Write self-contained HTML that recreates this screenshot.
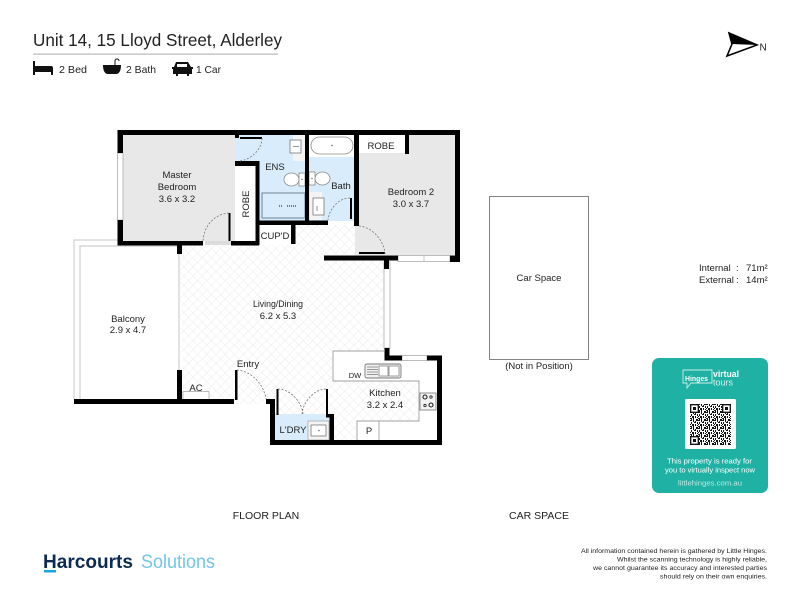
<!DOCTYPE html>
<html><head><meta charset="utf-8"><style>
html,body{margin:0;padding:0;background:#fff;width:800px;height:600px;overflow:hidden}
svg{display:block}
text{font-family:"Liberation Sans",sans-serif;fill:#222}
</style></head><body>
<svg width="800" height="600" viewBox="0 0 800 600" xmlns="http://www.w3.org/2000/svg">
<defs>
<pattern id="h" width="6.5" height="6.5" patternUnits="userSpaceOnUse" patternTransform="rotate(45)">
<rect width="6.5" height="6.5" fill="#fff"/><path d="M0 0H6.5M0 0V6.5" stroke="#e6e6e6" stroke-width="0.8"/>
</pattern>
<pattern id="q" width="8" height="8" patternUnits="userSpaceOnUse" x="690" y="404">
<rect width="8" height="8" fill="#fff"/>
<path d="M0 0h2v1H0zM3 0h1v2H3zM6 0h2v1H6zM1 2h1v2H1zM4 2h2v1H4zM7 2h1v2H7zM0 4h1v1H0zM2 4h2v2H2zM5 4h1v2H5zM7 5h1v1H7zM0 6h2v1H0zM3 6h1v2H3zM6 7h2v1H6zM1 7h1v1H1zM5 1h1v1H5z" fill="#111"/>
</pattern>
</defs>

<!-- header -->
<text x="33" y="46" font-size="17.5" textLength="249" lengthAdjust="spacingAndGlyphs">Unit 14, 15 Lloyd Street, Alderley</text>
<rect x="33" y="53.5" width="245" height="1.2" fill="#b8b8b8"/>
<!-- bed -->
<path d="M33 61h2v5h16a2 2 0 0 1 2 2v7h-2v-3H35v3h-2z" fill="#111"/>
<text x="59" y="73" font-size="10.5" fill="#333" textLength="28" lengthAdjust="spacingAndGlyphs">2 Bed</text>
<!-- bath -->
<path d="M103 65h18c0 6-2 9-5 9h-8c-3 0-5-3-5-9z" fill="#111"/>
<path d="M115 65v-4a2 2 0 0 1 4 0" fill="none" stroke="#111" stroke-width="1"/>
<text x="126" y="73" font-size="10.5" fill="#333" textLength="30" lengthAdjust="spacingAndGlyphs">2 Bath</text>
<!-- car -->
<path d="M176 62h12l3 5h2v2h-1v5h-3v2h-2v-2h-9v2h-2v-2h-3v-5h-1v-2h2z" fill="#111"/>
<rect x="177" y="64" width="10" height="3" fill="#fff"/>
<text x="196" y="73" font-size="10.5" fill="#333" textLength="25" lengthAdjust="spacingAndGlyphs">1 Car</text>

<!-- north -->
<path d="M729 33L757 45L727 56L732 44Z" fill="#fff" stroke="#000" stroke-width="1.6"/>
<path d="M729 33L757 45L732 44Z" fill="#000"/>
<text x="759.500" y="50.500" font-size="10" fill="#222">N</text>

<!-- balcony -->
<path d="M74 399V240H118" fill="none" stroke="#c9c9c9" stroke-width="1"/>
<path d="M80 399V246H178" fill="none" stroke="#d6d6d6" stroke-width="1.4"/>

<!-- floors -->
<rect x="123" y="135" width="112" height="106" fill="#e8e8e8"/>
<rect x="205" y="241" width="26" height="4" fill="#dcdcdc"/>
<rect x="355" y="135" width="100" height="120" fill="#e8e8e8"/>
<path d="M180 245H292V225H355V255H324V260H384V351H333V381H419V421H357V440H334V414H275V404H234V399H182Z" fill="url(#h)"/>
<rect x="355" y="225" width="30" height="30" fill="#e8e8e8"/>
<path d="M235 135H305V221H259V165H235Z" fill="#d8ecfb"/>
<rect x="309" y="135" width="46" height="86" fill="#d8ecfb"/>
<rect x="275" y="414" width="55" height="26" fill="#d8ecfb"/>
<rect x="236" y="167" width="20" height="73" fill="#fff"/>
<rect x="259" y="225" width="33" height="19" fill="#fff"/>
<rect x="359" y="135" width="46" height="18" fill="#fff"/>
<rect x="309" y="135" width="46" height="22" fill="#fff"/>

<!-- fixtures -->
<g fill="#fff" stroke="#8a8a8a" stroke-width="0.8">
<rect x="311" y="137" width="42" height="17" rx="8.5"/>
<rect x="293" y="135" width="12" height="26" fill="#f4f4f4" stroke="none"/>
<rect x="290" y="140" width="11" height="13" stroke="#777"/>
<rect x="310" y="192" width="12" height="28" fill="#f4f4f4" stroke="none"/>
<rect x="313" y="198" width="11" height="17" stroke="#777"/>
<ellipse cx="291.500" cy="179.500" rx="7.500" ry="6.500"/>
<rect x="299" y="173" width="6" height="13" fill="#fff"/>
<ellipse cx="322.500" cy="178.500" rx="7.500" ry="6.500"/>
<rect x="309" y="172" width="6" height="13" fill="#fff"/>
</g>
<g fill="#666"><circle cx="332" cy="145.500" r="0.8"/><circle cx="302" cy="179.500" r="0.7"/><circle cx="312" cy="178.500" r="0.7"/></g>
<path d="M293 146.500h6M317 206v5" stroke="#777" stroke-width="0.8" fill="none"/>
<rect x="262" y="193" width="43" height="25" fill="#d8ecfb" stroke="#7f96a8" stroke-width="1.2"/>
<path d="M279 206h3M287 206h10" stroke="#555" stroke-width="1.5" stroke-dasharray="1 1"/>

<!-- counter kitchen -->
<rect x="333" y="351" width="51" height="30" fill="#fff"/>
<rect x="384" y="360" width="53" height="21" fill="#fff"/>
<rect x="419" y="360" width="18" height="80" fill="#fff"/>
<rect x="357" y="421" width="80" height="19" fill="#fff"/>
<path d="M384 351H333V381H419V421H357V440M379 421V440" fill="none" stroke="#a0a0a0" stroke-width="0.9"/>
<rect x="365" y="364" width="36" height="14" rx="2" fill="#f2f2f2" stroke="#777" stroke-width="0.9"/>
<path d="M367 367h11M367 369.500h11M367 372h11M367 374.500h11" stroke="#777" stroke-width="0.7"/>
<rect x="379" y="366" width="9" height="10" fill="#fff" stroke="#777" stroke-width="0.7"/>
<rect x="389" y="366" width="10" height="10" fill="#fff" stroke="#777" stroke-width="0.7"/>
<rect x="420" y="393" width="16" height="17" fill="#f2f2f2" stroke="#777" stroke-width="0.8"/>
<circle cx="425" cy="397" r="2" fill="none" stroke="#222" stroke-width="1.1"/><circle cx="431" cy="397" r="1.2" fill="none" stroke="#222" stroke-width="0.8"/>
<circle cx="425" cy="405.500" r="1.2" fill="none" stroke="#222" stroke-width="0.8"/><circle cx="431" cy="405" r="2" fill="none" stroke="#222" stroke-width="1.1"/>
<rect x="308" y="421" width="21" height="19" fill="#f4f4f4" stroke="#aaa" stroke-width="0.8"/>
<rect x="311" y="425" width="15" height="11" fill="#fff" stroke="#777" stroke-width="0.8"/>
<circle cx="319" cy="430.500" r="0.8" fill="#666"/>
<rect x="183" y="391.500" width="26" height="8" fill="#fff" stroke="#aaa" stroke-width="0.8"/>

<!-- windows -->
<g fill="#fff" stroke="#b5b5b5" stroke-width="0.9">
<rect x="117.500" y="153" width="5.500" height="67"/>
<rect x="398" y="255.500" width="52" height="6"/>
<rect x="384" y="262" width="6" height="86"/>
<rect x="402" y="355.500" width="25" height="5"/>
</g>
<path d="M424 255.500V261.500" stroke="#b5b5b5" stroke-width="0.8"/>
<path d="M179 254V370" stroke="#cfcfcf" stroke-width="1.2"/>

<!-- walls -->
<g fill="#000">
<rect x="117.500" y="130" width="342.500" height="5"/>
<rect x="117.500" y="130" width="5.500" height="23"/>
<rect x="117.500" y="220" width="5.500" height="25"/>
<rect x="117.500" y="241" width="85.500" height="4.500"/>
<rect x="177" y="245" width="5" height="9"/>
<rect x="231" y="241" width="28" height="4.500"/>
<rect x="228.500" y="213" width="2" height="28"/>
<rect x="235" y="135" width="4" height="3"/>
<rect x="240" y="137" width="22" height="2"/>
<rect x="235" y="161" width="24" height="5"/>
<rect x="255.500" y="161" width="4" height="84"/>
<rect x="259" y="220.500" width="69" height="4.500"/>
<rect x="291" y="225" width="4.500" height="19"/>
<rect x="305" y="135" width="4" height="90"/>
<rect x="354" y="135" width="5" height="91"/>
<rect x="350" y="198" width="2" height="21"/>
<rect x="405" y="135" width="4" height="19"/>
<rect x="455" y="130" width="5" height="132"/>
<rect x="324" y="255.500" width="74" height="5"/>
<rect x="359" y="252" width="26" height="2"/>
<rect x="450" y="255.500" width="10" height="6.500"/>
<rect x="384" y="260" width="5" height="9"/>
<rect x="384.500" y="348" width="5" height="12"/>
<rect x="384.500" y="355.500" width="17.500" height="5"/>
<rect x="427" y="355.500" width="15" height="5"/>
<rect x="437" y="355.500" width="5" height="89.500"/>
<rect x="270" y="440" width="172" height="5"/>
<rect x="74" y="399" width="160" height="5"/>
<rect x="177" y="370" width="5" height="30"/>
<rect x="235" y="370" width="2.500" height="30"/>
<rect x="266" y="399" width="9" height="5"/>
<rect x="270" y="399" width="5" height="46"/>
<rect x="276.500" y="389" width="2" height="26"/>
<rect x="326" y="389" width="2" height="26"/>
<rect x="326" y="414" width="8" height="3.500"/>
<rect x="329.500" y="414" width="4.500" height="30"/>
</g>

<!-- door arcs -->
<g fill="none" stroke="#777" stroke-width="0.8" stroke-dasharray="2 1.6">
<path d="M229 213C214 214 204 226 203 241"/>
<path d="M262 138C262 150 250 160 240 161"/>
<path d="M350 198C338 198 329 210 328 220"/>
<path d="M359 226C372 227 384 240 385 254"/>
<path d="M237 370C252 371 264 385 266 399"/>
<path d="M278 389C290 389 302 402 303 414"/>
<path d="M326 389C314 389 303 402 302 414"/>
</g>

<!-- labels -->
<g font-size="9.500" text-anchor="middle" fill="#2a2a2a">
<text x="177" y="178">Master</text>
<text x="177" y="190">Bedroom</text>
<text x="177" y="202">3.6 x 3.2</text>
<text x="275" y="170">ENS</text>
<text x="341" y="189">Bath</text>
<text x="381" y="149">ROBE</text>
<text x="411" y="195">Bedroom 2</text>
<text x="411" y="207">3.0 x 3.7</text>
<text x="275" y="239" font-size="9.500">CUP'D</text>
<text x="278" y="307" textLength="50" lengthAdjust="spacingAndGlyphs">Living/Dining</text>
<text x="278" y="319">6.2 x 5.3</text>
<text x="128" y="322">Balcony</text>
<text x="128" y="333">2.9 x 4.7</text>
<text x="248" y="367">Entry</text>
<text x="196" y="391">AC</text>
<text x="385" y="396">Kitchen</text>
<text x="385" y="408">3.2 x 2.4</text>
<text x="293" y="433">L'DRY</text>
<text x="369" y="434">P</text>
<text x="355" y="378" font-size="7.500">DW</text>
<text transform="translate(249,204) rotate(-90)">ROBE</text>
</g>

<!-- car space -->
<rect x="489.500" y="196.500" width="99" height="163" fill="#fff" stroke="#777" stroke-width="0.9"/>
<text x="539" y="281" font-size="9.500" text-anchor="middle">Car Space</text>
<text x="539" y="369" font-size="9.500" text-anchor="middle">(Not in Position)</text>

<!-- areas -->
<text x="699" y="271" font-size="9.500" fill="#333">Internal</text>
<text x="736" y="271" font-size="9.500" fill="#333">:</text>
<text x="746" y="271" font-size="9.500" fill="#333">71m²</text>
<text x="699" y="283" font-size="9.500" fill="#333">External</text>
<text x="736" y="283" font-size="9.500" fill="#333">:</text>
<text x="746" y="283" font-size="9.500" fill="#333">14m²</text>

<!-- card -->
<rect x="652" y="358" width="116" height="135" rx="7" fill="#1fb1a3"/>
<path d="M683 370H712V383H691L687 388V383H683Z" fill="none" stroke="#cdeeea" stroke-width="0.9"/>
<text x="696.500" y="381" font-size="7.500" font-weight="bold" text-anchor="middle" style="fill:#fff" textLength="23" lengthAdjust="spacingAndGlyphs">Hinges</text>
<text x="713" y="377" font-size="9" font-weight="bold" style="fill:#fff" textLength="26" lengthAdjust="spacingAndGlyphs">virtual</text>
<text x="713" y="385.500" font-size="9" style="fill:#d8f3f0" textLength="20" lengthAdjust="spacingAndGlyphs">tours</text>
<rect x="685" y="399" width="51" height="50" rx="1.500" fill="#fff"/>
<rect x="690" y="404" width="41" height="41" fill="url(#q)"/>
<g fill="#fff" stroke="#111" stroke-width="1.300">
<rect x="690.700" y="404.700" width="7.600" height="7.600"/>
<rect x="722.700" y="404.700" width="7.600" height="7.600"/>
<rect x="690.700" y="436.700" width="7.600" height="7.600"/>
</g>
<rect x="693" y="407" width="3" height="3" fill="#111"/><rect x="725" y="407" width="3" height="3" fill="#111"/><rect x="693" y="439" width="3" height="3" fill="#111"/>
<text x="709.500" y="463.500" font-size="7" text-anchor="middle" style="fill:#fff" textLength="85" lengthAdjust="spacingAndGlyphs">This property is ready for</text>
<text x="710" y="472.500" font-size="7" text-anchor="middle" style="fill:#fff" textLength="90" lengthAdjust="spacingAndGlyphs">you to virtually inspect now</text>
<text x="710" y="485.500" font-size="7" text-anchor="middle" style="fill:#bfe9e4" textLength="64" lengthAdjust="spacingAndGlyphs">littlehinges.com.au</text>

<!-- captions -->
<text x="266" y="519" font-size="10.500" text-anchor="middle">FLOOR PLAN</text>
<text x="539" y="519" font-size="10.500" text-anchor="middle">CAR SPACE</text>

<!-- footer -->
<text x="43" y="568" font-size="19.500" font-weight="bold" style="fill:#0d2b50" textLength="90" lengthAdjust="spacingAndGlyphs">Harcourts</text>
<rect x="44" y="570" width="12" height="2.500" fill="#18a5e0"/>
<text x="141" y="568" font-size="19.500" style="fill:#72c6e8" textLength="74" lengthAdjust="spacingAndGlyphs">Solutions</text>
<g font-size="6.600" text-anchor="end" fill="#222">
<text x="767" y="553" textLength="186" lengthAdjust="spacingAndGlyphs">All information contained herein is gathered by Little Hinges.</text>
<text x="767" y="561.500" textLength="150" lengthAdjust="spacingAndGlyphs">Whilst the scanning technology is highly reliable,</text>
<text x="767" y="570" textLength="174" lengthAdjust="spacingAndGlyphs">we cannot guarantee its accuracy and interested parties</text>
<text x="767" y="578.500" textLength="107" lengthAdjust="spacingAndGlyphs">should rely on their own enquiries.</text>
</g>
</svg>
</body></html>
